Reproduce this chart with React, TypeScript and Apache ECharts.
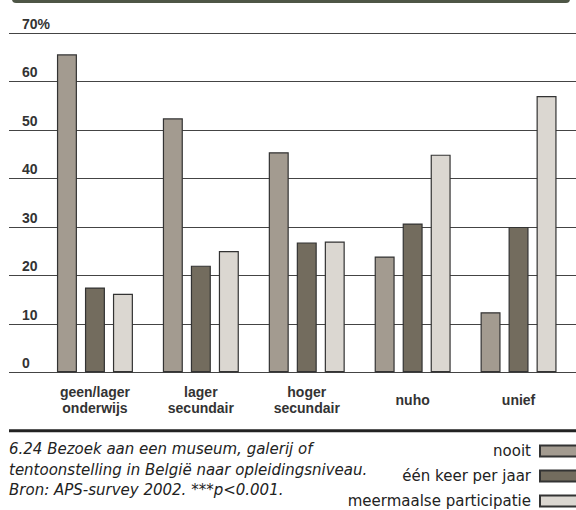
import React, { useEffect, useRef } from "react";
import * as echarts from "echarts";

const categories = ["geen/lager\nonderwijs", "lager\nsecundair", "hoger\nsecundair", "nuho", "unief"];
const seriesNames = ["nooit", "één keer per jaar", "meermaalse participatie"];
const nooit = [65.6, 52.4, 45.4, 23.9, 12.4];
const eenKeer = [17.5, 22.0, 26.8, 30.7, 30.0];
const meermaals = [16.2, 25.0, 27.0, 44.9, 57.0];
const yTicks = { min: 0, max: 70, interval: 10 };
const captionLines = [
  "6.24 Bezoek aan een museum, galerij of",
  "tentoonstelling in België naar opleidingsniveau.",
  "Bron: APS-survey 2002. ***p<0.001.",
];
const colors = ["#a39b90", "#736c5e", "#dbd7d1"];

export default function App() {
  const ref = useRef<HTMLDivElement>(null);
  useEffect(() => {
    if (!ref.current) return;
    const chart = echarts.init(ref.current, null, { renderer: "svg" });
    const gridTop = 33;
    const gridHeight = 339.3;
    const values = [nooit, eenKeer, meermaals];
    chart.setOption({
      animation: false,
      grid: [
        { left: 9, right: 0, top: gridTop, height: gridHeight },
        { left: 42, right: 4.5, top: gridTop, height: gridHeight },
      ],
      xAxis: [
        { gridIndex: 0, type: "value", show: false },
        {
          gridIndex: 1,
          type: "category",
          data: categories,
          axisLine: { show: false },
          axisTick: { show: false },
          axisLabel: {
            interval: 0,
            margin: 28,
            verticalAlign: "middle",
            fontFamily: "Liberation Sans, Arial, sans-serif",
            fontWeight: "bold",
            fontSize: 14,
            lineHeight: 16,
            color: "#333",
          },
        },
      ],
      yAxis: [
        {
          gridIndex: 0,
          type: "value",
          min: yTicks.min,
          max: yTicks.max,
          interval: yTicks.interval,
          axisLine: { show: false },
          axisTick: { show: false },
          splitLine: { show: true, lineStyle: { color: "#444", width: 1 } },
          axisLabel: {
            inside: true,
            margin: 13,
            verticalAlign: "bottom",
            padding: [0, 0, 2, 0],
            fontFamily: "Liberation Sans, Arial, sans-serif",
            fontWeight: "bold",
            fontSize: 14,
            color: "#333",
            formatter: (v: number) => (v === yTicks.max ? v + "%" : String(v)),
          },
        },
        { gridIndex: 1, type: "value", min: yTicks.min, max: yTicks.max, interval: yTicks.interval, show: false },
      ],
      legend: {
        orient: "vertical",
        right: -3,
        top: 443.5,
        padding: 0,
        align: "right",
        itemWidth: 38,
        itemHeight: 11,
        itemGap: 10,
        icon: "rect",
        data: seriesNames,
        textStyle: {
          fontFamily: "DejaVu Sans, sans-serif",
          fontSize: 15,
          lineHeight: 11,
          color: "#222",
          padding: [0, 4, 0, 0],
        },
      },
      graphic: [
        { type: "rect", left: 12, top: -5, shape: { width: 558, height: 8, r: 4 }, style: { fill: "#4e5646" } },
        { type: "rect", left: 9, top: 429.3, shape: { width: 567, height: 3 }, style: { fill: "#222" } },
        ...captionLines.map((t, i) => ({
          type: "text",
          left: 9,
          top: [449.5, 470.5, 491][i] - 8.5,
          style: {
            text: t,
            fontFamily: "DejaVu Sans, sans-serif",
            fontStyle: "italic",
            fontSize: 15,
            fill: "#222",
          },
        })),
      ],
      series: values.map((d, i) => ({
        name: seriesNames[i],
        type: "bar",
        xAxisIndex: 1,
        yAxisIndex: 1,
        data: d,
        barWidth: 20,
        barGap: "40%",
        itemStyle: { color: colors[i], borderColor: "#333", borderWidth: 1.2 },
      })),
    });
    return () => chart.dispose();
  }, []);
  return (
    <div
      ref={ref}
      style={{ position: "absolute", left: 0, top: 0, width: 576, height: 510, background: "#fff" }}
    />
  );
}
